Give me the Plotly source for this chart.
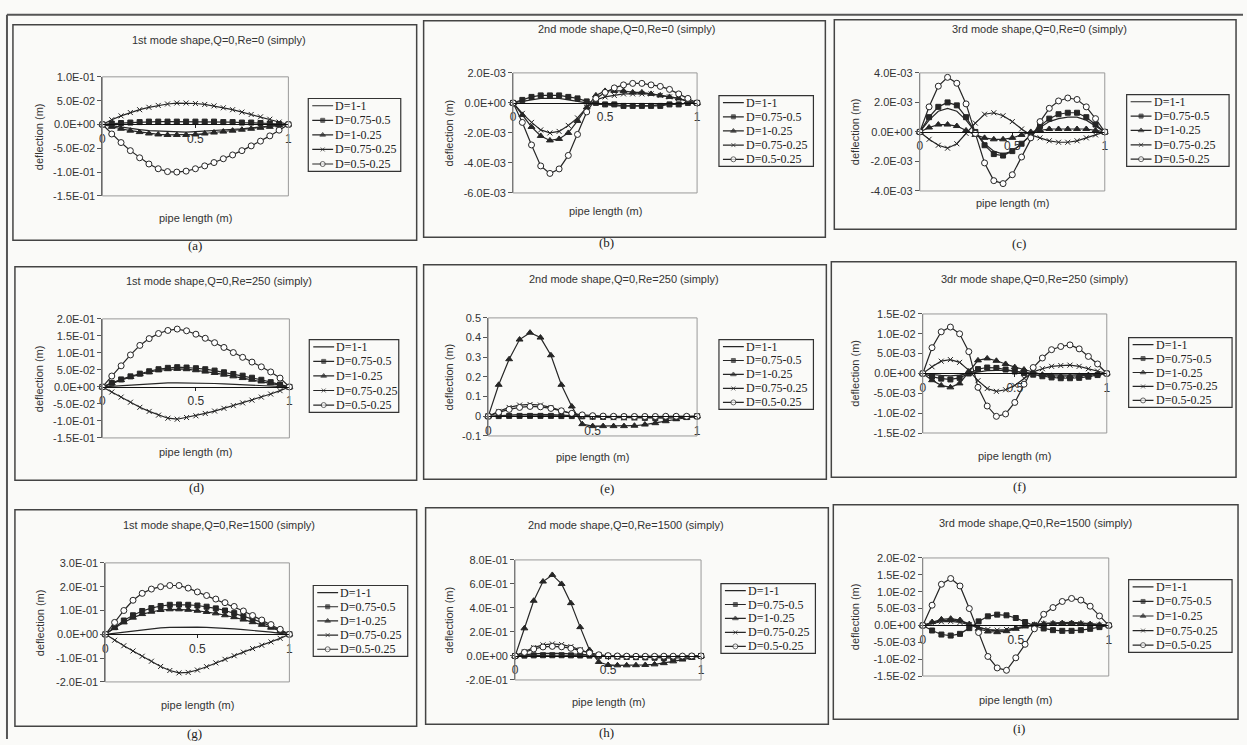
import plotly.graph_objects as go

W, H = 1247, 745
INK = "#262626"

# positions along the pipe (m)
x_pos = [0, 0.05, 0.1, 0.15, 0.2, 0.25, 0.3, 0.35, 0.4, 0.45, 0.5,
         0.55, 0.6, 0.65, 0.7, 0.75, 0.8, 0.85, 0.9, 0.95, 1]

series_names = ["D=1-1", "D=0.75-0.5", "D=1-0.25", "D=0.75-0.25", "D=0.5-0.25"]

# deflection (m) per diameter ratio, order as series_names
mode1_re0 = [
    [0, -0.003, -0.006, -0.009, -0.011, -0.013, -0.014, -0.015, -0.016, -0.016, -0.015, -0.014, -0.013, -0.012, -0.01, -0.009, -0.007, -0.005, -0.003, -0.002, 0],
    [0, 0.002, 0.003, 0.004, 0.005, 0.006, 0.006, 0.006, 0.006, 0.006, 0.006, 0.006, 0.006, 0.005, 0.005, 0.004, 0.004, 0.003, 0.002, 0.001, 0],
    [0, -0.005, -0.009, -0.013, -0.016, -0.019, -0.021, -0.022, -0.022, -0.022, -0.021, -0.019, -0.017, -0.015, -0.013, -0.011, -0.009, -0.007, -0.005, -0.002, 0],
    [0, 0.01, 0.018, 0.025, 0.031, 0.036, 0.04, 0.043, 0.045, 0.045, 0.044, 0.042, 0.039, 0.035, 0.031, 0.026, 0.021, 0.016, 0.011, 0.005, 0],
    [0, -0.02, -0.038, -0.055, -0.07, -0.083, -0.093, -0.099, -0.1, -0.098, -0.093, -0.087, -0.08, -0.072, -0.064, -0.055, -0.045, -0.035, -0.024, -0.012, 0],
]
mode2_re0 = [
    [0, 0.0001, 0.0002, 0.0003, 0.0003, 0.0003, 0.0002, 0.0001, 0, -0.0001, -0.0001, -0.0002, -0.0002, -0.0002, -0.0002, -0.0002, -0.0001, -0.0001, -0.0001, 0, 0],
    [0, 0.0002, 0.0004, 0.0005, 0.0005, 0.0005, 0.0004, 0.0003, 0.0001, 0, -0.0001, -0.0001, -0.0002, -0.0002, -0.0002, -0.0002, -0.0002, -0.0001, -0.0001, 0, 0],
    [0, -0.0008, -0.0016, -0.0022, -0.0025, -0.0024, -0.002, -0.0012, -0.0003, 0.0005, 0.0008, 0.0008, 0.0008, 0.0007, 0.0007, 0.0006, 0.0005, 0.0004, 0.0003, 0.0001, 0],
    [0, -0.0007, -0.0013, -0.0018, -0.002, -0.0019, -0.0015, -0.001, -0.0003, 0.0002, 0.0004, 0.0005, 0.0006, 0.0006, 0.0006, 0.0006, 0.0005, 0.0004, 0.0003, 0.0001, 0],
    [0, -0.0013, -0.0028, -0.0042, -0.0047, -0.0044, -0.0035, -0.0021, -0.0006, 0.0003, 0.0007, 0.001, 0.0012, 0.0013, 0.0013, 0.0012, 0.0011, 0.0009, 0.0006, 0.0003, 0],
]
mode3_re0 = [
    [0, 0.0008, 0.0014, 0.0016, 0.0014, 0.0008, 0, -0.0008, -0.0013, -0.0015, -0.0013, -0.0008, -0.0002, 0.0003, 0.0007, 0.0009, 0.001, 0.001, 0.0008, 0.0004, 0],
    [0, 0.001, 0.0017, 0.002, 0.0018, 0.001, 0, -0.0009, -0.0015, -0.0016, -0.0013, -0.0008, -0.0002, 0.0004, 0.0009, 0.0012, 0.0013, 0.0013, 0.001, 0.0005, 0],
    [0, 0.0003, 0.0005, 0.0005, 0.0004, 0.0001, -0.0002, -0.0004, -0.0005, -0.0005, -0.0004, -0.0002, 0, 0.0001, 0.0002, 0.0002, 0.0002, 0.0002, 0.0002, 0.0001, 0],
    [0, -0.0005, -0.0009, -0.0011, -0.0008, -0.0001, 0.0006, 0.0012, 0.0013, 0.0011, 0.0007, 0.0002, -0.0002, -0.0004, -0.0006, -0.0007, -0.0007, -0.0006, -0.0004, -0.0002, 0],
    [0, 0.0017, 0.0031, 0.0037, 0.0033, 0.0019, -0.0001, -0.0021, -0.0033, -0.0035, -0.0029, -0.0017, -0.0004, 0.0007, 0.0016, 0.0021, 0.0023, 0.0022, 0.0017, 0.0009, 0],
]
mode1_re250 = [
    [0, 0.002, 0.004, 0.006, 0.008, 0.01, 0.011, 0.012, 0.012, 0.012, 0.012, 0.011, 0.01, 0.009, 0.008, 0.007, 0.005, 0.004, 0.003, 0.001, 0],
    [0, 0.012, 0.022, 0.031, 0.039, 0.046, 0.052, 0.056, 0.058, 0.057, 0.055, 0.052, 0.048, 0.043, 0.038, 0.033, 0.027, 0.021, 0.014, 0.007, 0],
    [0, 0.011, 0.02, 0.029, 0.037, 0.043, 0.049, 0.052, 0.053, 0.052, 0.049, 0.045, 0.041, 0.036, 0.031, 0.026, 0.021, 0.016, 0.011, 0.005, 0],
    [0, -0.015, -0.03, -0.045, -0.06, -0.072, -0.083, -0.092, -0.095, -0.09, -0.085, -0.078, -0.071, -0.063, -0.055, -0.047, -0.039, -0.03, -0.021, -0.011, 0],
    [0, 0.032, 0.062, 0.094, 0.122, 0.142, 0.157, 0.166, 0.17, 0.165, 0.155, 0.143, 0.13, 0.116, 0.101, 0.087, 0.073, 0.059, 0.044, 0.026, 0],
]
mode2_re250 = [
    [0, 0.004, 0.007, 0.009, 0.01, 0.01, 0.008, 0.006, 0.003, 0, -0.001, -0.002, -0.003, -0.003, -0.003, -0.003, -0.002, -0.002, -0.001, 0, 0],
    [0, 0.001, 0.002, 0.002, 0.002, 0.002, 0.002, 0.001, 0.001, 0, -0.002, -0.003, -0.004, -0.005, -0.006, -0.008, -0.01, -0.01, -0.008, -0.004, 0],
    [0, 0.16, 0.29, 0.39, 0.425, 0.4, 0.31, 0.16, 0.05, -0.04, -0.05, -0.05, -0.05, -0.05, -0.048, -0.042, -0.035, -0.025, -0.015, -0.007, 0],
    [0, 0.025, 0.045, 0.057, 0.06, 0.057, 0.045, 0.03, 0.013, 0.003, -0.003, -0.006, -0.007, -0.008, -0.008, -0.007, -0.006, -0.005, -0.003, -0.001, 0],
    [0, 0.02, 0.035, 0.045, 0.05, 0.048, 0.04, 0.028, 0.015, 0.007, 0.003, 0.001, 0, -0.001, -0.001, -0.001, -0.001, 0, 0, 0, 0],
]
mode3_re250 = [
    [0, -0.0003, -0.0005, -0.0006, -0.0004, 0, 0.0004, 0.0007, 0.0008, 0.0008, 0.0006, 0.0003, 0, -0.0002, -0.0003, -0.0004, -0.0004, -0.0003, -0.0002, -0.0001, 0],
    [0, -0.0008, -0.0013, -0.0015, -0.0011, 0, 0.0011, 0.0015, 0.0014, 0.001, 0.0005, 0.0001, -0.0003, -0.0007, -0.001, -0.0012, -0.0012, -0.0011, -0.0008, -0.0004, 0],
    [0, -0.0017, -0.003, -0.0035, -0.0025, 0.0005, 0.0033, 0.0038, 0.0032, 0.0024, 0.0016, 0.001, 0.0003, -0.0003, -0.0006, -0.0007, -0.0007, -0.0006, -0.0004, -0.0002, 0],
    [0, 0.0017, 0.0031, 0.0035, 0.0028, 0.0008, -0.0018, -0.0038, -0.0045, -0.0041, -0.003, -0.0012, 0.0004, 0.0012, 0.0018, 0.002, 0.0021, 0.0018, 0.0012, 0.0006, 0],
    [0, 0.0065, 0.0105, 0.0117, 0.01, 0.0055, -0.0035, -0.0082, -0.0108, -0.0102, -0.0073, -0.0027, 0.0015, 0.0039, 0.006, 0.0068, 0.0072, 0.0062, 0.0043, 0.0024, 0],
]
mode1_re1500 = [
    [0, 0.005, 0.01, 0.015, 0.02, 0.024, 0.027, 0.029, 0.03, 0.03, 0.03, 0.029, 0.028, 0.026, 0.023, 0.02, 0.017, 0.013, 0.009, 0.004, 0],
    [0, 0.03, 0.058, 0.08, 0.098, 0.11, 0.119, 0.124, 0.125, 0.124, 0.121, 0.116, 0.109, 0.1, 0.089, 0.077, 0.064, 0.05, 0.034, 0.017, 0],
    [0, 0.027, 0.05, 0.07, 0.085, 0.095, 0.102, 0.105, 0.105, 0.103, 0.099, 0.094, 0.088, 0.08, 0.072, 0.062, 0.051, 0.04, 0.028, 0.014, 0],
    [0, -0.025, -0.048, -0.07, -0.092, -0.113, -0.135, -0.152, -0.162, -0.16, -0.15, -0.136, -0.12, -0.105, -0.09, -0.075, -0.06, -0.046, -0.032, -0.017, 0],
    [0, 0.05, 0.1, 0.143, 0.172, 0.19, 0.2, 0.205, 0.205, 0.194, 0.178, 0.163, 0.148, 0.133, 0.117, 0.098, 0.079, 0.06, 0.041, 0.021, 0],
]
mode2_re1500 = [
    [0, 0.01, 0.017, 0.021, 0.022, 0.021, 0.017, 0.012, 0.006, 0.001, -0.002, -0.004, -0.005, -0.005, -0.005, -0.005, -0.004, -0.003, -0.002, -0.001, 0],
    [0, 0.003, 0.005, 0.006, 0.006, 0.006, 0.005, 0.004, 0.003, 0.001, -0.002, -0.005, -0.008, -0.01, -0.012, -0.015, -0.018, -0.018, -0.014, -0.007, 0],
    [0, 0.23, 0.46, 0.62, 0.675, 0.6, 0.44, 0.24, 0.05, -0.05, -0.075, -0.078, -0.078, -0.077, -0.075, -0.07, -0.06, -0.045, -0.03, -0.015, 0],
    [0, 0.035, 0.07, 0.092, 0.1, 0.095, 0.078, 0.052, 0.025, 0.008, -0.002, -0.008, -0.01, -0.011, -0.011, -0.01, -0.009, -0.007, -0.005, -0.002, 0],
    [0, 0.03, 0.058, 0.075, 0.08, 0.076, 0.064, 0.045, 0.025, 0.01, 0.003, 0, -0.002, -0.003, -0.003, -0.003, -0.002, -0.002, -0.001, 0, 0],
]
mode3_re1500 = [
    [0, 0.0008, 0.0014, 0.0016, 0.0013, 0.0004, -0.0006, -0.0013, -0.0016, -0.0015, -0.001, -0.0003, 0.0002, 0.0006, 0.0008, 0.0009, 0.0009, 0.0008, 0.0006, 0.0003, 0],
    [0, -0.0015, -0.0027, -0.003, -0.0025, -0.0008, 0.0012, 0.0027, 0.0032, 0.003, 0.0022, 0.001, -0.0001, -0.0009, -0.0014, -0.0016, -0.0016, -0.0014, -0.001, -0.0005, 0],
    [0, 0.001, 0.0018, 0.002, 0.0016, 0.0004, -0.001, -0.0018, -0.002, -0.0017, -0.001, -0.0003, 0.0002, 0.0005, 0.0006, 0.0007, 0.0007, 0.0006, 0.0004, 0.0002, 0],
    [0, 0.0006, 0.0011, 0.0012, 0.0009, 0.0002, -0.0006, -0.0012, -0.0014, -0.0012, -0.0007, -0.0001, 0.0003, 0.0005, 0.0006, 0.0006, 0.0006, 0.0005, 0.0003, 0.0001, 0],
    [0, 0.006, 0.0122, 0.0139, 0.0117, 0.005, -0.0021, -0.0092, -0.0126, -0.0133, -0.0096, -0.0056, -0.001, 0.0033, 0.0053, 0.0071, 0.008, 0.0075, 0.0057, 0.0028, 0],
]

panel_data = [mode1_re0, mode2_re0, mode3_re0,
              mode1_re250, mode2_re250, mode3_re250,
              mode1_re1500, mode2_re1500, mode3_re1500]

titles = [
    "1st mode shape,Q=0,Re=0 (simply)", "2nd mode shape,Q=0,Re=0 (simply)", "3rd mode shape,Q=0,Re=0 (simply)",
    "1st mode shape,Q=0,Re=250 (simply)", "2nd mode shape,Q=0,Re=250 (simply)", "3dr mode shape,Q=0,Re=250 (simply)",
    "1st mode shape,Q=0,Re=1500 (simply)", "2nd mode shape,Q=0,Re=1500 (simply)", "3rd mode shape,Q=0,Re=1500 (simply)",
]
letters = ["(a)", "(b)", "(c)", "(d)", "(e)", "(f)", "(g)", "(h)", "(i)"]

y_tickvals = [
    [-0.15, -0.1, -0.05, 0, 0.05, 0.1],
    [-0.006, -0.004, -0.002, 0, 0.002],
    [-0.004, -0.002, 0, 0.002, 0.004],
    [-0.15, -0.1, -0.05, 0, 0.05, 0.1, 0.15, 0.2],
    [-0.1, 0, 0.1, 0.2, 0.3, 0.4, 0.5],
    [-0.015, -0.01, -0.005, 0, 0.005, 0.01, 0.015],
    [-0.2, -0.1, 0, 0.1, 0.2, 0.3],
    [-0.2, 0, 0.2, 0.4, 0.6, 0.8],
    [-0.015, -0.01, -0.005, 0, 0.005, 0.01, 0.015, 0.02],
]
y_ticktext = [
    ["-1.5E-01", "-1.0E-01", "-5.0E-02", "0.0E+00", "5.0E-02", "1.0E-01"],
    ["-6.0E-03", "-4.0E-03", "-2.0E-03", "0.0E+00", "2.0E-03"],
    ["-4.0E-03", "-2.0E-03", "0.0E+00", "2.0E-03", "4.0E-03"],
    ["-1.5E-01", "-1.0E-01", "-5.0E-02", "0.0E+00", "5.0E-02", "1.0E-01", "1.5E-01", "2.0E-01"],
    ["-0.1", "0", "0.1", "0.2", "0.3", "0.4", "0.5"],
    ["-1.5E-02", "-1.0E-02", "-5.0E-03", "0.0E+00", "5.0E-03", "1.0E-02", "1.5E-02"],
    ["-2.0E-01", "-1.0E-01", "0.0E+00", "1.0E-01", "2.0E-01", "3.0E-01"],
    ["-2.0E-01", "0.0E+00", "2.0E-01", "4.0E-01", "6.0E-01", "8.0E-01"],
    ["-1.5E-02", "-1.0E-02", "-5.0E-03", "0.0E+00", "5.0E-03", "1.0E-02", "1.5E-02", "2.0E-02"],
]
x_tickvals = [0, 0.5, 1]
x_ticktext = ["0", "0.5", "1"]

# page geometry in pixels: plot area (l, r, t, b), panel frame, legend box
plot_px = [(100, 287, 72, 193), (513, 698, 68, 190), (922, 1108, 68, 188),
           (100, 288, 318, 439), (488, 698, 317, 437), (925, 1110, 313, 434),
           (103, 288, 566, 687), (515, 702, 563, 685), (925, 1112, 561, 681)]
frame_px = [(10, 416, 19, 238), (423, 827, 15, 235), (836, 1240, 14, 227),
            (12, 416, 265, 482), (423, 828, 263, 481), (833, 1240, 260, 479),
            (12, 416, 512, 732), (425, 830, 510, 730), (835, 1242, 507, 725)]
legend_px = [(307, 400, 94, 168), (720, 815, 91, 163), (1130, 1233, 90, 163),
             (308, 398, 339, 413), (720, 815, 339, 410), (1132, 1236, 337, 408),
             (312, 407, 589, 661), (722, 817, 587, 658), (1132, 1236, 583, 657)]
title_px = [(217, 35), (627, 23), (1042, 23), (217, 280), (625, 277), (1037, 277),
            (217, 528), (627, 527), (1038, 525)]
letter_px = [(193, 243), (607, 240), (1022, 241), (195, 489), (607, 490), (1022, 488),
             (193, 739), (607, 738), (1022, 734)]
ytitle_x = [37, 448, 857, 37, 448, 857, 38, 448, 857]
xtitle_y = [215, 208, 200, 453, 458, 457, 710, 707, 705]

markers = [
    None,
    dict(symbol="square", size=5, color=INK, line=dict(color=INK, width=1)),
    dict(symbol="triangle-up", size=6, color=INK, line=dict(color=INK, width=1)),
    dict(symbol="x-thin", size=5, color=INK, line=dict(color=INK, width=1)),
    dict(symbol="circle", size=6, color="white", line=dict(color=INK, width=1)),
]


def fx(px):
    return px / W


def fy(py):
    return 1 - py / H


fig = go.Figure()
layout = dict(width=W, height=H, margin=dict(l=0, r=0, t=0, b=0),
              paper_bgcolor="#fafaf8", plot_bgcolor="rgba(0,0,0,0)",
              showlegend=False, shapes=[], annotations=[])

AXFONT = dict(family="Liberation Sans", size=11, color="#333")
TICKFONT = dict(family="Liberation Sans", size=11, color="#333")
XTICKFONT = dict(family="Liberation Sans", size=12, color="#333")
SERIF = dict(family="Liberation Serif", size=12, color="#222")
LETTERFONT = dict(family="Liberation Serif", size=13, color="#222")

# outer page rule
layout["shapes"].append(dict(type="line", xref="paper", yref="paper",
                             x0=fx(4), x1=fx(4), y0=fy(9), y1=fy(745),
                             line=dict(color="#555", width=2)))
layout["shapes"].append(dict(type="line", xref="paper", yref="paper",
                             x0=fx(4), x1=fx(1247), y0=fy(9), y1=fy(9),
                             line=dict(color="#555", width=2)))

for k in range(9):
    n = k + 1
    xa, ya = ("x" if n == 1 else f"x{n}"), ("y" if n == 1 else f"y{n}")
    l, r, t, b = plot_px[k]
    ymin, ymax = y_tickvals[k][0], y_tickvals[k][-1]
    yd = [fy(b), fy(t)]
    zero_pos = yd[0] + (0 - ymin) / (ymax - ymin) * (yd[1] - yd[0])

    layout[f"xaxis{n if n > 1 else ''}"] = dict(
        domain=[fx(l), fx(r)], range=[0, 1], anchor="free", position=zero_pos,
        tickvals=x_tickvals, ticktext=x_ticktext, ticks="outside", ticklen=3,
        tickcolor="#222", showline=True, linecolor="#111", linewidth=1,
        showgrid=False, zeroline=False, tickfont=XTICKFONT)
    layout[f"yaxis{n if n > 1 else ''}"] = dict(
        domain=yd, range=[ymin, ymax], anchor=xa,
        tickvals=y_tickvals[k], ticktext=y_ticktext[k], ticks="outside", ticklen=4,
        tickcolor="#555", showline=True, linecolor="#666", linewidth=1,
        showgrid=False, zeroline=False, tickfont=TICKFONT)

    # plot-area border
    layout["shapes"].append(dict(type="rect", xref="paper", yref="paper",
                                 x0=fx(l), x1=fx(r), y0=fy(b), y1=fy(t),
                                 line=dict(color="#999", width=1)))
    # panel frame
    fl, fr, ft, fb = frame_px[k]
    layout["shapes"].append(dict(type="rect", xref="paper", yref="paper",
                                 x0=fx(fl), x1=fx(fr), y0=fy(fb), y1=fy(ft),
                                 line=dict(color="#444", width=1.5), layer="below"))

    for s, name in enumerate(series_names):
        mk = markers[s]
        fig.add_trace(go.Scatter(
            x=x_pos, y=panel_data[k][s], name=name, xaxis=xa, yaxis=ya,
            mode="lines" if mk is None else "lines+markers",
            line=dict(color=INK, width=1.2), marker=mk, cliponaxis=False))

    # legend drawn in its own small axes (pixel offsets inside the box)
    ll, lr, lt, lb = legend_px[k]
    m = k + 10
    layout[f"xaxis{m}"] = dict(domain=[fx(ll), fx(lr)], range=[0, lr - ll],
                               visible=False, anchor=f"y{m}")
    layout[f"yaxis{m}"] = dict(domain=[fy(lb), fy(lt)], range=[lb - lt, 0],
                               visible=False, anchor=f"x{m}")
    layout["shapes"].append(dict(type="rect", xref="paper", yref="paper",
                                 x0=fx(ll), x1=fx(lr), y0=fy(lb), y1=fy(lt),
                                 line=dict(color="#333", width=1.2)))
    row_h = (lb - lt) / 5
    for s, name in enumerate(series_names):
        cy = (s + 0.5) * row_h
        mk = markers[s]
        sizes = [0, 0, 0] if mk is None else [0, mk["size"] - 1, 0]
        mk2 = dict(markers[s] or dict(color=INK))
        mk2["size"] = sizes
        fig.add_trace(go.Scatter(
            x=[4, 14.5, 25], y=[cy, cy, cy], xaxis=f"x{m}", yaxis=f"y{m}",
            mode="lines+markers", line=dict(color=INK, width=1.2), marker=mk2,
            hoverinfo="skip", cliponaxis=False))
        layout["annotations"].append(dict(
            xref="paper", yref="paper", x=fx(ll + 25), y=fy(lt + cy),
            text=name, showarrow=False, xanchor="left", yanchor="middle", font=SERIF))

    # texts
    tx, ty = title_px[k]
    layout["annotations"].append(dict(xref="paper", yref="paper", x=fx(tx), y=fy(ty),
                                      text=titles[k], showarrow=False, font=AXFONT,
                                      xanchor="center", yanchor="middle"))
    layout["annotations"].append(dict(xref="paper", yref="paper", x=fx((l + r) / 2),
                                      y=fy(xtitle_y[k]), text="pipe length (m)",
                                      showarrow=False, font=AXFONT,
                                      xanchor="center", yanchor="middle"))
    layout["annotations"].append(dict(xref="paper", yref="paper", x=fx(ytitle_x[k]),
                                      y=fy((t + b) / 2), text="deflection (m)",
                                      showarrow=False, font=AXFONT, textangle=-90,
                                      xanchor="center", yanchor="middle"))
    lx, ly = letter_px[k]
    layout["annotations"].append(dict(xref="paper", yref="paper", x=fx(lx), y=fy(ly),
                                      text=letters[k], showarrow=False, font=LETTERFONT,
                                      xanchor="center", yanchor="middle"))

fig.update_layout(**layout)
fig.write_html("out.html")
